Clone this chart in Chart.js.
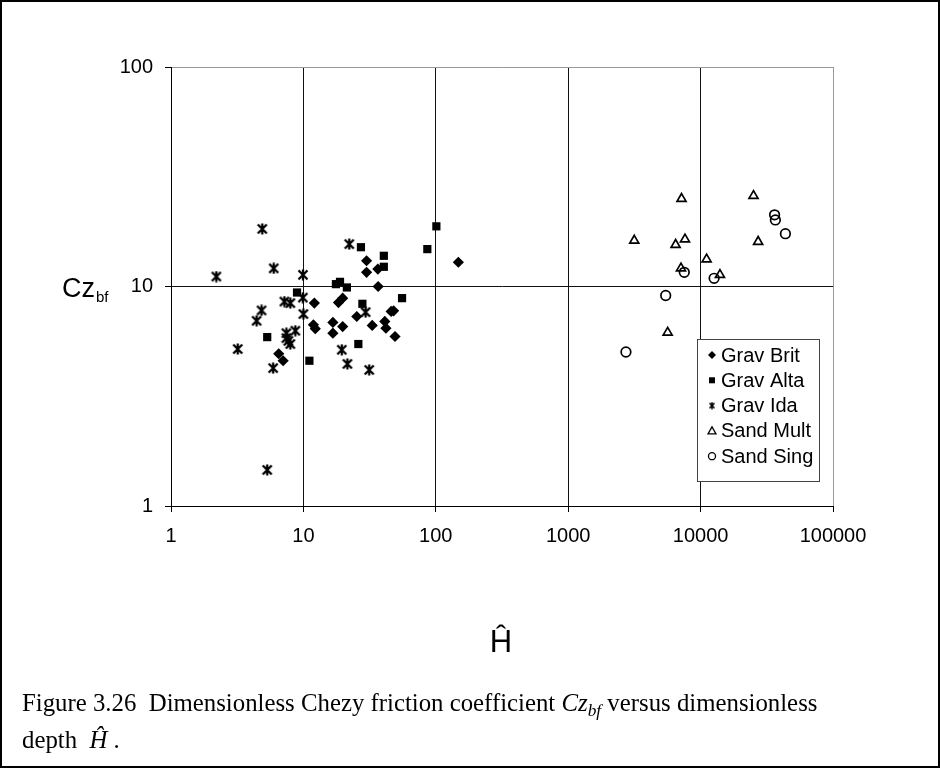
<!DOCTYPE html>
<html>
<head>
<meta charset="utf-8">
<script src="https://cdn.jsdelivr.net/npm/chart.js@4.4.1/dist/chart.umd.min.js"></script>
<style>
  html, body { margin: 0; padding: 0; background: #fff; }
  #wrap { position: relative; width: 940px; height: 768px; overflow: hidden; }
  #frame { position: absolute; left: 0; top: 0; width: 940px; height: 768px; box-sizing: border-box; border: 2px solid #000; pointer-events: none; }
  #caption { position: absolute; left: 22px; top: 684px; width: 910px; font-family: 'Liberation Serif', 'Times New Roman', serif; font-size: 24.8px; line-height: 37px; color: #000; white-space: nowrap; }
  #caption sub { font-size: 0.7em; vertical-align: -0.3em; line-height: 0; }
</style>
</head>
<body>
<div id="wrap">
  <canvas id="grafica" width="940" height="768"></canvas>
  <div id="caption">Figure 3.26&nbsp; Dimensionless Chezy friction coefficient <i>Cz<sub>bf</sub></i> versus dimensionless<br>depth&nbsp; <i>Ĥ</i> .</div>
  <div id="frame"></div>
</div>
<script>
// datos (H gorro, Cz_bf)
const gravBritH  = [30.0, 30.0, 36.5, 36.7, 148, 12.1, 18.4, 19.8, 25.3, 11.9, 12.3, 16.7, 16.7, 19.8, 33.1, 41.2, 42.0, 46.0, 48.0, 49.2, 6.51, 7.03];
const gravBritCz = [13.1, 11.6, 12.0, 10.0, 12.9, 8.4, 8.45, 8.85, 7.3, 6.69, 6.42, 6.86, 6.13, 6.57, 6.65, 6.93, 6.46, 7.7, 7.75, 5.92, 4.94, 4.59];

const gravAltaH  = [101, 86.3, 27.2, 40.5, 40.5, 17.6, 18.9, 21.3, 8.95, 55.6, 27.9, 5.33, 26.0, 11.1];
const gravAltaCz = [18.8, 14.8, 15.1, 13.8, 12.3, 10.25, 10.5, 9.9, 9.39, 8.85, 8.34, 5.88, 5.47, 4.59];

const gravIdaH  = [4.89, 2.2, 5.97, 9.93, 22.2, 7.19, 7.97, 9.9, 4.83, 4.43, 10.0, 8.69, 7.44, 7.44, 7.97, 7.7, 3.19, 5.91, 19.5, 21.5, 31.4, 29.5, 5.33];
const gravIdaCz = [18.3, 11.1, 12.1, 11.3, 15.6, 8.54, 8.4, 8.9, 7.78, 6.98, 7.49, 6.29, 6.13, 5.82, 5.47, 5.65, 5.19, 4.25, 5.15, 4.44, 4.17, 7.64, 1.46];

const sandMultH  = [7180, 25100, 3155, 6475, 7620, 27200, 11100, 7110, 14000, 5640];
const sandMultCz = [25.1, 25.9, 16.2, 15.5, 16.4, 16.0, 13.3, 12.1, 11.3, 6.17];

const sandSingH  = [36200, 36700, 43700, 7530, 12650, 5450, 2730];
const sandSingCz = [21.2, 20.1, 17.4, 11.6, 10.9, 9.1, 5.03];

const seriesNames = ['Grav Brit', 'Grav Alta', 'Grav Ida', 'Sand Mult', 'Sand Sing'];
const xTicks = [1, 10, 100, 1000, 10000, 100000];
const yTicks = [1, 10, 100];

const fuente = "'Liberation Sans', Arial, sans-serif";

function puntos(hs, czs) {
  return hs.map((h, i) => ({ x: h, y: czs[i] }));
}

// marcador asterisco (estilo excel)
function hacerAsterisco(s, lw) {
  const c = document.createElement('canvas');
  c.width = s; c.height = s;
  const g = c.getContext('2d');
  g.strokeStyle = '#000';
  g.lineWidth = lw;
  const m = 1.5, e = s - 1.5;
  g.beginPath();
  g.moveTo(m, m); g.lineTo(e, e);
  g.moveTo(e, m); g.lineTo(m, e);
  g.moveTo(s / 2, 0.5); g.lineTo(s / 2, s - 0.5);
  g.stroke();
  return c;
}
const asterisco = hacerAsterisco(12, 2.3);
const asteriscoLeyenda = hacerAsterisco(8, 1.6);

function marcador(ctx, tipo, x, y) {
  ctx.save();
  ctx.fillStyle = '#000';
  ctx.strokeStyle = '#000';
  ctx.lineWidth = 1.3;
  ctx.beginPath();
  if (tipo === 0) {
    ctx.moveTo(x, y - 4); ctx.lineTo(x + 4, y); ctx.lineTo(x, y + 4); ctx.lineTo(x - 4, y); ctx.closePath(); ctx.fill();
  } else if (tipo === 1) {
    ctx.rect(x - 3, y - 3, 6, 6); ctx.fill();
  } else if (tipo === 2) {
    ctx.drawImage(asteriscoLeyenda, x - 4, y - 4);
  } else if (tipo === 3) {
    ctx.moveTo(x, y - 4); ctx.lineTo(x + 4, y + 3); ctx.lineTo(x - 4, y + 3); ctx.closePath(); ctx.stroke();
  } else {
    ctx.arc(x, y, 3.5, 0, Math.PI * 2); ctx.stroke();
  }
  ctx.restore();
}

// leyenda y titulos dibujados a mano
const extras = {
  id: 'extras',
  afterDraw(chart) {
    const ctx = chart.ctx;
    ctx.save();
    // leyenda
    const lx = 697, ly = 339, lw = 122, lh = 142;
    ctx.fillStyle = '#fff';
    ctx.fillRect(lx, ly, lw, lh);
    ctx.strokeStyle = '#444';
    ctx.lineWidth = 1;
    ctx.strokeRect(lx + 0.5, ly + 0.5, lw, lh);
    ctx.font = '20px ' + fuente;
    ctx.textBaseline = 'middle';
    ctx.textAlign = 'left';
    seriesNames.forEach((n, i) => {
      const yy = 355 + i * 25.3;
      marcador(ctx, i, 712, yy);
      ctx.fillStyle = '#000';
      ctx.fillText(n, 721, yy + 1);
    });
    // titulo eje y
    ctx.fillStyle = '#000';
    ctx.textBaseline = 'alphabetic';
    ctx.font = '27px ' + fuente;
    ctx.fillText('Cz', 62, 297);
    const w = ctx.measureText('Cz').width;
    ctx.font = '15px ' + fuente;
    ctx.fillText('bf', 62 + w + 1, 302);
    // titulo eje x
    ctx.font = '31px ' + fuente;
    ctx.textAlign = 'center';
    ctx.fillText('Ĥ', 501, 652);
    ctx.restore();
  }
};

const grafica = document.getElementById('grafica');

let grafica_OBJ = new Chart(grafica, {
  type: 'scatter',
  data: {
    datasets: [{
      label: seriesNames[0],
      data: puntos(gravBritH, gravBritCz),
      pointStyle: 'rectRot',
      pointRadius: 5.6,
      backgroundColor: '#000',
      borderColor: '#000',
      borderWidth: 0
    }, {
      label: seriesNames[1],
      data: puntos(gravAltaH, gravAltaCz),
      pointStyle: 'rect',
      pointRadius: 5.8,
      backgroundColor: '#000',
      borderColor: '#000',
      borderWidth: 0
    }, {
      label: seriesNames[2],
      data: puntos(gravIdaH, gravIdaCz),
      pointStyle: asterisco,
      pointRadius: 6
    }, {
      label: seriesNames[3],
      data: puntos(sandMultH, sandMultCz),
      pointStyle: 'triangle',
      pointRadius: 5.2,
      backgroundColor: 'rgba(255,255,255,0)',
      borderColor: '#000',
      borderWidth: 1.7
    }, {
      label: seriesNames[4],
      data: puntos(sandSingH, sandSingCz),
      pointStyle: 'circle',
      pointRadius: 4.8,
      backgroundColor: 'rgba(255,255,255,0)',
      borderColor: '#000',
      borderWidth: 1.7
    }]
  },
  options: {
    responsive: false,
    animation: false,
    devicePixelRatio: 1,
    layout: {
      padding: { left: 0, top: 67, right: 107, bottom: 212 }
    },
    plugins: {
      legend: { display: false },
      tooltip: { enabled: false }
    },
    scales: {
      x: {
        type: 'logarithmic',
        min: 1,
        max: 100000,
        afterBuildTicks: (s) => { s.ticks = xTicks.map(v => ({ value: v })); },
        afterFit: (s) => { s.height = 50; },
        ticks: {
          color: '#000',
          font: { family: fuente, size: 20 },
          padding: 12,
          maxRotation: 0,
          autoSkip: false,
          callback: (v) => String(v)
        },
        grid: {
          color: (c) => (c.tick && c.tick.value === 100000) ? '#999' : '#111',
          lineWidth: 1,
          tickLength: 6,
          tickColor: '#000'
        },
        border: { color: '#000', width: 1 }
      },
      y: {
        type: 'logarithmic',
        min: 1,
        max: 100,
        afterBuildTicks: (s) => { s.ticks = yTicks.map(v => ({ value: v })); },
        afterFit: (s) => { s.width = 171; },
        ticks: {
          color: '#000',
          font: { family: fuente, size: 20 },
          padding: 12,
          autoSkip: false,
          callback: (v) => String(v)
        },
        grid: {
          color: (c) => (c.tick && c.tick.value === 100) ? '#999' : '#111',
          lineWidth: 1,
          tickLength: 6,
          tickColor: '#000'
        },
        border: { color: '#000', width: 1 }
      }
    }
  },
  plugins: [extras]
});
</script>
</body>
</html>
